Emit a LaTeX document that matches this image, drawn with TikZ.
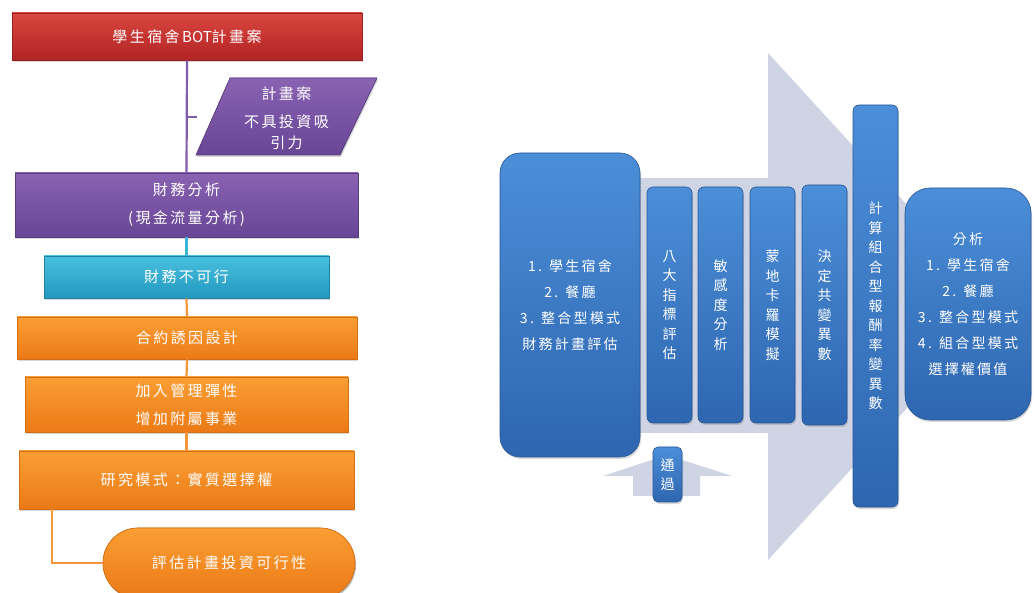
\documentclass[tikz,border=0pt]{standalone}
\usepackage{fontspec}
\newfontfamily\cjk[LetterSpace=16]{Noto Sans CJK TC}
\newfontfamily\cjkn{Noto Sans CJK TC}
\usetikzlibrary{shapes.misc,shadows}
\definecolor{redT}{RGB}{218,70,64}
\definecolor{redB}{RGB}{178,36,36}
\definecolor{purT}{RGB}{138,98,178}
\definecolor{purB}{RGB}{104,70,150}
\definecolor{cyaT}{RGB}{72,192,222}
\definecolor{cyaB}{RGB}{36,152,192}
\definecolor{oraT}{RGB}{250,158,52}
\definecolor{oraB}{RGB}{236,122,22}
\definecolor{bluT}{RGB}{76,142,216}
\definecolor{bluB}{RGB}{46,102,176}
\definecolor{arrowgray}{RGB}{206,212,227}
\definecolor{purLine}{RGB}{128,92,170}
\definecolor{cyaLine}{RGB}{60,180,215}
\definecolor{oraLine}{RGB}{245,150,60}
\tikzset{
  base/.style={rectangle, inner sep=0pt, text=white, align=center,
    drop shadow={shadow xshift=1pt, shadow yshift=-2pt, opacity=0.3}},
  lefttext/.style={font=\cjk\fontsize{15}{28}\selectfont},
  righttext/.style={font=\cjk\fontsize{14}{26}\selectfont},
  verttext/.style={font=\cjk\fontsize{14}{19.5}\selectfont},
  redbox/.style={base, lefttext, top color=redT, bottom color=redB, draw=redB!85!black, line width=0.6pt},
  purbox/.style={base, lefttext, top color=purT, bottom color=purB, draw=purB!85!black, line width=0.6pt},
  cyabox/.style={base, lefttext, top color=cyaT, bottom color=cyaB, draw=cyaB!85!black, line width=0.6pt},
  orabox/.style={base, lefttext, top color=oraT, bottom color=oraB, draw=oraB!90!black, line width=0.6pt},
  blubox/.style={base, top color=bluT, bottom color=bluB, draw=bluB!85!black, line width=0.6pt},
  purconn/.style={draw=purLine, line width=2.2pt},
  cyaconn/.style={draw=cyaLine, line width=2.2pt},
  oraconn/.style={draw=oraLine, line width=2.2pt},
}
\begin{document}
\begin{tikzpicture}[x=1pt,y=-1pt]
\useasboundingbox (0,0) rectangle (1034,593);
\clip (0,0) rectangle (1034,593);
\fill[white] (0,0) rectangle (1034,593);

% ---------- left flowchart ----------
\coordinate (tick) at (197,117);
\node[redbox, minimum width=350pt, minimum height=47pt] (bot) at (187,36.5) {學生宿舍{\cjkn\,BOT}計畫案};
\node[purbox, minimum width=343pt, minimum height=64pt] (fin) at (186.5,205) {財務分析\\(現金流量分析)};
\node[cyabox, minimum width=285pt, minimum height=42pt] (notok) at (186.5,277) {財務不可行};
\node[orabox, minimum width=340pt, minimum height=42pt] (incent) at (187,338) {合約誘因設計};
\node[orabox, minimum width=323pt, minimum height=55pt] (flex) at (186.5,404.5) {加入管理彈性\\增加附屬事業};
\node[orabox, minimum width=335pt, minimum height=58pt] (model) at (186.5,480) {研究模式：實質選擇權};
\node[orabox, rounded rectangle, minimum width=252pt, minimum height=70pt] (eval) at (229,563) {評估計畫投資可行性};

% connectors
\draw[purconn] (bot.south) -- (fin.north);
\draw[purconn] (bot.south |- tick) -- (tick);
\draw[cyaconn] (fin.south) -- (notok.north);
\draw[oraconn] (notok.south) -- (incent.north);
\draw[oraconn] (incent.south) -- (flex.north);
\draw[oraconn] (flex.south) -- (model.north);
\draw[oraconn] ([xshift=-134.5pt]model.south) |- (eval.west);
% redraw end box on top of connector end
\node[orabox, rounded rectangle, minimum width=252pt, minimum height=70pt] at (229,563) {評估計畫投資可行性};

% parallelogram
\fill[top color=purT, bottom color=purB, draw=purB!85!black, line width=0.6pt,
  drop shadow={shadow xshift=1pt, shadow yshift=-2pt, opacity=0.3}]
  (230,78) -- (377,78) -- (340,155) -- (196,155) -- cycle;
\node[lefttext, text=white, align=center, inner sep=0pt] (plan) at (286.5,118.5) {計畫案\\[0pt]不具投資吸\\[-7pt]引力};

% ---------- right process ----------
\fill[arrowgray] (600,178) -- (768,178) -- (768,53) -- (1000,306.5) -- (768,560) -- (768,433) -- (600,433) -- cycle;
\fill[arrowgray] (633,496) -- (633,476) -- (603,476) -- (667,455) -- (732,476) -- (700,476) -- (700,496) -- cycle;

\node[blubox, righttext, rounded corners=20pt, minimum width=140pt, minimum height=304pt] (eval1) at (570,305)
  {1. 學生宿舍\\2. 餐廳\\3. 整合型模式\\財務計畫評估};
\node[blubox, verttext, rounded corners=6pt, minimum width=45pt, minimum height=236pt] (v1) at (669.5,305)
  {八\\大\\指\\標\\評\\估};
\node[blubox, verttext, rounded corners=6pt, minimum width=45pt, minimum height=236pt] (v2) at (720.5,305)
  {敏\\感\\度\\分\\析};
\node[blubox, verttext, rounded corners=6pt, minimum width=45pt, minimum height=236pt] (v3) at (772.5,305)
  {蒙\\地\\卡\\羅\\模\\擬};
\node[blubox, verttext, rounded corners=6pt, minimum width=45pt, minimum height=240pt] (v4) at (824.5,305)
  {決\\定\\共\\變\\異\\數};
\node[blubox, verttext, rounded corners=6pt, minimum width=45pt, minimum height=402pt] (v5) at (875.5,306)
  {計\\算\\組\\合\\型\\報\\酬\\率\\變\\異\\數};
\node[blubox, righttext, rounded corners=25pt, minimum width=126pt, minimum height=232pt] (result) at (968,304)
  {分析\\1. 學生宿舍\\2. 餐廳\\3. 整合型模式\\4. 組合型模式\\選擇權價值};
\node[blubox, verttext, rounded corners=5pt, minimum width=29pt, minimum height=55pt] (pass) at (667.5,474.5)
  {通\\過};
\end{tikzpicture}
\end{document}
